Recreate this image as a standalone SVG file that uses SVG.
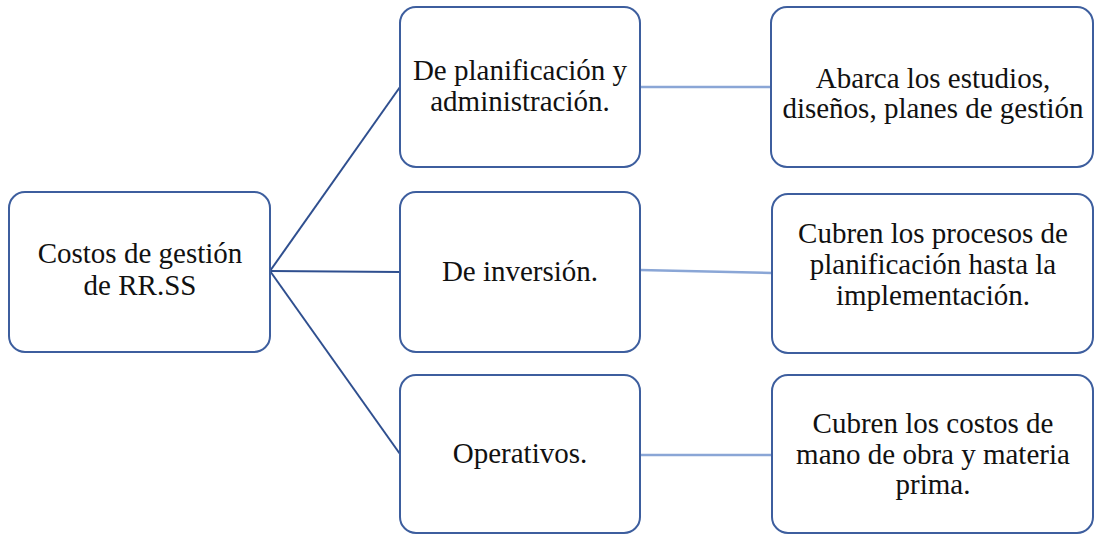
<svg xmlns="http://www.w3.org/2000/svg" width="1094" height="536" viewBox="0 0 1094 536">
<style>
.box{fill:#fff;stroke:#3D5E9E;stroke-width:2}
.fan{stroke:#2F4F8F;stroke-width:2;fill:none}
.side{stroke:#8AA6D6;stroke-width:2.5;fill:none}
</style>
<rect width="1094" height="536" fill="#fff"/>
<g id="connectors">
<line class="fan" x1="270" y1="271" x2="400" y2="87"/>
<line class="fan" x1="270" y1="271" x2="400" y2="272"/>
<line class="fan" x1="270" y1="271" x2="400" y2="454"/>
<line class="side" x1="640" y1="87" x2="771" y2="87"/>
<line class="side" x1="640" y1="270" x2="772" y2="273"/>
<line class="side" x1="640" y1="455" x2="772" y2="455"/>
</g>
<g font-family="Liberation Serif, DejaVu Serif, serif" font-size="29" fill="#111" text-anchor="middle">
<g id="root">
<rect class="box" x="9" y="192" width="261" height="160" rx="16"/>
<text x="140" y="263">Costos de gestión</text>
<text x="140" y="295">de RR.SS</text>
</g>
<g id="planificacion">
<rect class="box" x="400" y="7" width="240" height="160" rx="16"/>
<text x="520" y="80">De planificación y</text>
<text x="520" y="111">administración.</text>
</g>
<g id="inversion">
<rect class="box" x="400" y="192" width="240" height="160" rx="16"/>
<text x="520" y="281">De inversión.</text>
</g>
<g id="operativos">
<rect class="box" x="400" y="375" width="240" height="158" rx="16"/>
<text x="520" y="463">Operativos.</text>
</g>
<g id="desc1">
<rect class="box" x="771" y="7" width="322" height="160" rx="16"/>
<text x="933" y="88">Abarca los estudios,</text>
<text x="933" y="118">diseños, planes de gestión</text>
</g>
<g id="desc2">
<rect class="box" x="772" y="194" width="321" height="159" rx="16"/>
<text x="933" y="243">Cubren los procesos de</text>
<text x="933" y="274">planificación hasta la</text>
<text x="933" y="305">implementación.</text>
</g>
<g id="desc3">
<rect class="box" x="772" y="375" width="321" height="158" rx="16"/>
<text x="933" y="433">Cubren los costos de</text>
<text x="933" y="464">mano de obra y materia</text>
<text x="933" y="494">prima.</text>
</g>
</g>
</svg>
